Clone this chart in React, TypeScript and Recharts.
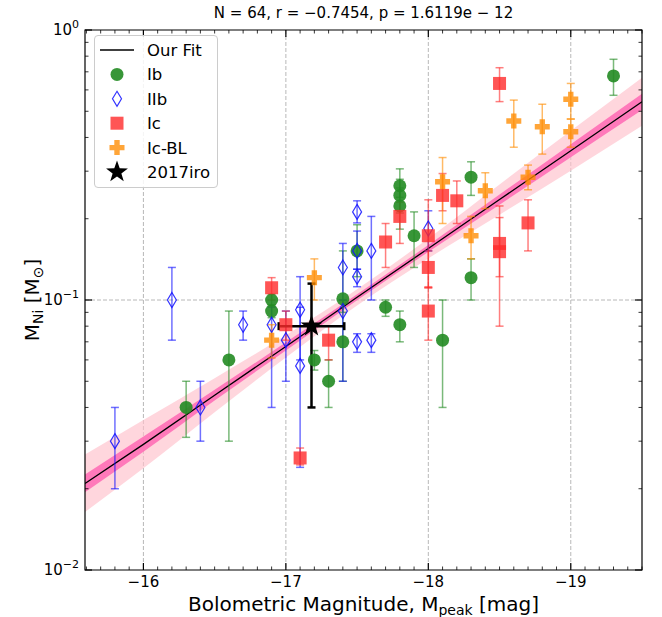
import React from 'react';
import {
  ComposedChart,
  Area,
  Line,
  Scatter,
  ErrorBar,
  XAxis,
  YAxis,
  CartesianGrid,
  ReferenceArea,
  Legend,
} from 'recharts';

const W = 662;
const H = 617;
const PLOT_TOP = 30;
const PLOT_RIGHT = 642;
const FONT = '"DejaVu Sans", sans-serif';

// rows: [M_peak, M_Ni, lower, upper]
const IB = [
  [-16.3, 0.04, 0.031, 0.05],
  [-16.6, 0.06, 0.03, 0.091],
  [-16.9, 0.1, 0.095, 0.105],
  [-16.9, 0.091, 0.086, 0.096],
  [-17.2, 0.06, 0.055, 0.065],
  [-17.3, 0.05, 0.04, 0.06],
  [-17.4, 0.101, 0.09, 0.152],
  [-17.4, 0.07, 0.05, 0.1],
  [-17.5, 0.152, 0.122, 0.19],
  [-17.7, 0.094, 0.087, 0.1],
  [-17.8, 0.081, 0.07, 0.091],
  [-17.8, 0.265, 0.24, 0.306],
  [-17.8, 0.244, 0.21, 0.28],
  [-17.8, 0.223, 0.183, 0.26],
  [-17.9, 0.173, 0.132, 0.212],
  [-18.1, 0.071, 0.04, 0.1],
  [-18.3, 0.285, 0.244, 0.325],
  [-18.3, 0.121, 0.1, 0.142],
  [-19.3, 0.676, 0.573, 0.779],
];

const IIB = [
  [-15.8, 0.03, 0.02, 0.04],
  [-16.2, 0.1, 0.071, 0.132],
  [-16.4, 0.04, 0.03, 0.05],
  [-16.7, 0.081, 0.071, 0.091],
  [-16.9, 0.081, 0.04, 0.094],
  [-17.0, 0.071, 0.05, 0.091],
  [-17.1, 0.092, 0.06, 0.122],
  [-17.1, 0.057, 0.024, 0.094],
  [-17.4, 0.132, 0.1, 0.162],
  [-17.4, 0.091, 0.05, 0.1],
  [-17.5, 0.212, 0.193, 0.233],
  [-17.5, 0.152, 0.13, 0.18],
  [-17.5, 0.122, 0.112, 0.13],
  [-17.5, 0.07, 0.064, 0.075],
  [-17.6, 0.152, 0.1, 0.204],
  [-17.6, 0.071, 0.064, 0.075],
  [-18.0, 0.184, 0.152, 0.214],
];

const IC = [
  [-16.9, 0.111, 0.1, 0.121],
  [-17.0, 0.081, 0.071, 0.091],
  [-17.1, 0.026, 0.0245, 0.0283],
  [-17.3, 0.071, 0.06, 0.08],
  [-17.7, 0.164, 0.132, 0.192],
  [-17.8, 0.204, 0.162, 0.23],
  [-18.0, 0.173, 0.111, 0.235],
  [-18.0, 0.132, 0.111, 0.152],
  [-18.0, 0.091, 0.071, 0.112],
  [-18.1, 0.244, 0.214, 0.294],
  [-18.2, 0.233, 0.192, 0.276],
  [-18.5, 0.634, 0.543, 0.725],
  [-18.5, 0.162, 0.08, 0.223],
  [-18.5, 0.151, 0.122, 0.202],
  [-18.7, 0.193, 0.152, 0.235],
];

const ICBL = [
  [-16.9, 0.071, 0.061, 0.081],
  [-17.2, 0.121, 0.1, 0.142],
  [-18.1, 0.274, 0.192, 0.337],
  [-18.3, 0.173, 0.142, 0.204],
  [-18.4, 0.254, 0.218, 0.296],
  [-18.6, 0.46, 0.368, 0.55],
  [-18.7, 0.285, 0.256, 0.316],
  [-18.8, 0.438, 0.347, 0.531],
  [-19.0, 0.554, 0.468, 0.634],
  [-19.0, 0.42, 0.368, 0.468],
];

// [M_peak, M_Ni, lower, upper, M_peak error]
const SN2017IRO = [[-17.18, 0.08, 0.04, 0.115, 0.23]];

// fit line and its two confidence bands
const FIT_MAG = [-15.59, -16.0, -16.5, -17.0, -17.5, -18.0, -18.5, -19.0, -19.5];
const FIT_NI = [0.0209, 0.0292, 0.0444, 0.0673, 0.1023, 0.1552, 0.2355, 0.3573, 0.5424];
const OUTER_LO = [0.0164, 0.0238, 0.0384, 0.0612, 0.0955, 0.1426, 0.207, 0.3013, 0.4416];
const OUTER_HI = [0.0268, 0.0359, 0.0513, 0.074, 0.1096, 0.169, 0.2679, 0.4236, 0.6653];
const INNER_LO = [0.0194, 0.0274, 0.0424, 0.065, 0.0998, 0.1507, 0.2254, 0.3381, 0.5058];
const INNER_HI = [0.0226, 0.0312, 0.0465, 0.0697, 0.105, 0.16, 0.246, 0.3776, 0.5808];

const X_MAJOR = [-16, -17, -18, -19];
const Y_MAJOR = [0.01, 0.1, 1];
const TITLE = 'N = 64, r = \u22120.7454, p = 1.6119e \u2212 12';

const X_MINOR: number[] = [];
for (let i = 156; i <= 195; i++) if (i % 10 !== 0) X_MINOR.push(-i / 10);
const Y_MINOR = [2, 3, 4, 5, 6, 7, 8, 9].flatMap((k) => [k / 100, k / 10]);

const toPoints = (rows: number[][]) =>
  rows.map(([x, y, lo, hi, xe]) => ({ x, y, err: [y - lo, hi - y], xerr: xe }));

const bandData = FIT_MAG.map((x, i) => ({
  x,
  fit: FIT_NI[i],
  outer: [OUTER_LO[i], OUTER_HI[i]],
  inner: [INNER_LO[i], INNER_HI[i]],
}));

const GREEN = '#228b22';
const BLUE = '#1010ff';
const RED = '#ff2a2a';
const ORANGE = '#ff8c00';

// markers
const Dot = ({ cx, cy }: any) => <circle cx={cx} cy={cy} r={6.5} fill={GREEN} fillOpacity={0.9} />;
const Diamond = ({ cx, cy }: any) => (
  <path
    d={`M${cx},${cy - 7.5}L${cx + 4.5},${cy}L${cx},${cy + 7.5}L${cx - 4.5},${cy}Z`}
    fill="none"
    stroke={BLUE}
    strokeOpacity={0.85}
    strokeWidth={1.2}
  />
);
const Square = ({ cx, cy }: any) => (
  <rect x={cx - 6.5} y={cy - 6.5} width={13} height={13} fill={RED} fillOpacity={0.8} />
);
const Plus = ({ cx, cy }: any) => {
  const s = 7.5;
  const t = 2.7;
  return (
    <path
      d={`M${cx - t},${cy - s}H${cx + t}V${cy - t}H${cx + s}V${cy + t}H${cx + t}V${cy + s}H${cx - t}V${cy + t}H${cx - s}V${cy - t}H${cx - t}Z`}
      fill={ORANGE}
      fillOpacity={0.78}
    />
  );
};
const Star = ({ cx, cy }: any) => {
  const pts: string[] = [];
  for (let i = 0; i < 10; i++) {
    const r = i % 2 === 0 ? 11.5 : 4.6;
    const a = -Math.PI / 2 + (i * Math.PI) / 5;
    pts.push(`${cx + r * Math.cos(a)},${cy + r * Math.sin(a)}`);
  }
  return <polygon points={pts.join(' ')} fill="#000" />;
};

const XTick = ({ x, y, payload }: any) => {
  const v = payload.value;
  const major = X_MAJOR.includes(v);
  const len = major ? 7 : 3.5;
  return (
    <g>
      <line x1={x} y1={y} x2={x} y2={y - len} stroke="#000" strokeWidth={major ? 1.2 : 0.8} />
      <line x1={x} y1={PLOT_TOP} x2={x} y2={PLOT_TOP + len} stroke="#000" strokeWidth={major ? 1.2 : 0.8} />
      {major && (
        <text x={x} y={y + 17} textAnchor="middle" fontSize={15} fontFamily={FONT} fill="#000">
          {`\u2212${Math.abs(v)}`}
        </text>
      )}
    </g>
  );
};

const YTick = ({ x, y, payload }: any) => {
  const v = payload.value;
  const major = Y_MAJOR.includes(v);
  const len = major ? 7 : 3.5;
  const exp = Math.round(Math.log10(v));
  return (
    <g>
      <line x1={x} y1={y} x2={x + len} y2={y} stroke="#000" strokeWidth={major ? 1.2 : 0.8} />
      <line x1={PLOT_RIGHT} y1={y} x2={PLOT_RIGHT - len} y2={y} stroke="#000" strokeWidth={major ? 1.2 : 0.8} />
      {major && (
        <text x={x - 6} y={y + 5} textAnchor="end" fontSize={15} fontFamily={FONT} fill="#000">
          10
          <tspan dy={-7} fontSize={11}>
            {exp === 0 ? '0' : `\u2212${-exp}`}
          </tspan>
        </text>
      )}
    </g>
  );
};

const XLabel = () => (
  <text x={363.5} y={611} textAnchor="middle" fontSize={20} fontFamily={FONT} fill="#000">
    Bolometric Magnitude, M
    <tspan dy={4} fontSize={14}>
      peak
    </tspan>
    <tspan dy={-4}> [mag]</tspan>
  </text>
);

const YLabel = () => (
  <text
    x={39}
    y={300}
    transform="rotate(-90, 39, 300)"
    textAnchor="middle"
    fontSize={20}
    fontFamily={FONT}
    fill="#000"
  >
    M
    <tspan dy={4} fontSize={14}>
      Ni
    </tspan>
    <tspan dy={-4}> [M</tspan>
    <tspan dy={4} fontSize={14}>
      {'\u2299'}
    </tspan>
    <tspan dy={-4}>]</tspan>
  </text>
);

const LEGEND_ITEMS = [
  { name: 'Our Fit', icon: 'line' },
  { name: 'Ib', icon: 'dot' },
  { name: 'IIb', icon: 'diamond' },
  { name: 'Ic', icon: 'square' },
  { name: 'Ic-BL', icon: 'plus' },
  { name: '2017iro', icon: 'star' },
];

const LegendIcon = ({ icon, cy }: { icon: string; cy: number }) => {
  const cx = 22;
  if (icon === 'line') return <line x1={5} y1={cy} x2={39} y2={cy} stroke="#000" strokeWidth={1.3} />;
  if (icon === 'dot') return <Dot cx={cx} cy={cy} />;
  if (icon === 'diamond') return <Diamond cx={cx} cy={cy} />;
  if (icon === 'square') return <Square cx={cx} cy={cy} />;
  if (icon === 'plus') return <Plus cx={cx} cy={cy} />;
  return <Star cx={cx} cy={cy} />;
};

const renderLegend = () => (
  <div
    style={{
      width: 124,
      height: 153,
      boxSizing: 'border-box',
      border: '1px solid #cccccc',
      borderRadius: 4,
      background: 'rgba(255,255,255,0.85)',
    }}
  >
    <svg width={122} height={151} style={{ display: 'block' }}>
      {LEGEND_ITEMS.map((item, i) => {
        const cy = 14 + i * 24.4;
        return (
          <g key={item.name}>
            <LegendIcon icon={item.icon} cy={cy} />
            <text x={52} y={cy + 6} fontSize={16.5} fontFamily={FONT} fill="#000">
              {item.name}
            </text>
          </g>
        );
      })}
    </svg>
  </div>
);

const App: React.FC = () => {
  return (
    <div style={{ position: 'absolute', left: 0, top: 0, width: W, height: H, background: '#fff' }}>
      <div
        style={{
          position: 'absolute',
          left: 85,
          width: 557,
          top: 4,
          textAlign: 'center',
          fontFamily: FONT,
          fontSize: 15,
          color: '#000',
        }}
      >
        {TITLE}
      </div>
      <ComposedChart
        width={W}
        height={H}
        data={bandData}
        margin={{ top: PLOT_TOP, right: W - PLOT_RIGHT, bottom: 0, left: 0 }}
      >
        <CartesianGrid
          verticalValues={X_MAJOR}
          horizontalValues={[0.1]}
          stroke="#b0b0b0"
          strokeDasharray="4 2"
          strokeWidth={0.9}
        />
        <XAxis
          dataKey="x"
          type="number"
          domain={[-19.5, -15.59]}
          reversed
          allowDataOverflow
          ticks={[...X_MAJOR, ...X_MINOR]}
          interval={0}
          tickSize={0}
          tickMargin={0}
          tick={<XTick />}
          axisLine={false}
          height={47}
          label={{ content: () => <XLabel /> }}
        />
        <YAxis
          type="number"
          scale="log"
          domain={[0.01, 1]}
          allowDataOverflow
          ticks={[...Y_MAJOR, ...Y_MINOR]}
          interval={0}
          tickSize={0}
          tickMargin={0}
          tick={<YTick />}
          axisLine={false}
          width={85}
          label={{ content: () => <YLabel /> }}
        />
        <Area
          dataKey="outer"
          type="monotone"
          fill="#ffc0cb"
          fillOpacity={0.65}
          stroke="none"
          isAnimationActive={false}
          legendType="none"
        />
        <Area
          dataKey="inner"
          type="monotone"
          fill="#ff69b4"
          fillOpacity={0.85}
          stroke="none"
          isAnimationActive={false}
          legendType="none"
        />
        <Line
          dataKey="fit"
          type="linear"
          stroke="#000"
          strokeWidth={1.3}
          dot={false}
          isAnimationActive={false}
        />
        <Scatter name="Ib" data={toPoints(IB)} dataKey="y" shape={Dot} isAnimationActive={false}>
          <ErrorBar dataKey="err" direction="y" width={4} stroke={GREEN} strokeOpacity={0.6} strokeWidth={1.5} />
        </Scatter>
        <Scatter name="IIb" data={toPoints(IIB)} dataKey="y" shape={Diamond} isAnimationActive={false}>
          <ErrorBar dataKey="err" direction="y" width={4} stroke={BLUE} strokeOpacity={0.6} strokeWidth={1.5} />
        </Scatter>
        <Scatter name="Ic" data={toPoints(IC)} dataKey="y" shape={Square} isAnimationActive={false}>
          <ErrorBar dataKey="err" direction="y" width={4} stroke={RED} strokeOpacity={0.6} strokeWidth={1.5} />
        </Scatter>
        <Scatter name="Ic-BL" data={toPoints(ICBL)} dataKey="y" shape={Plus} isAnimationActive={false}>
          <ErrorBar dataKey="err" direction="y" width={4} stroke={ORANGE} strokeOpacity={0.6} strokeWidth={1.5} />
        </Scatter>
        <Scatter name="2017iro" data={toPoints(SN2017IRO)} dataKey="y" shape={Star} isAnimationActive={false}>
          <ErrorBar dataKey="err" direction="y" width={4} stroke="#000" strokeWidth={2.5} />
          <ErrorBar dataKey="xerr" direction="x" width={4} stroke="#000" strokeWidth={2.5} />
        </Scatter>
        <ReferenceArea
          x1={-19.5}
          x2={-15.59}
          y1={0.01}
          y2={1}
          fill="none"
          stroke="#000"
          strokeWidth={1.2}
          ifOverflow="visible"
        />
        <Legend
          layout="vertical"
          verticalAlign="middle"
          align="center"
          wrapperStyle={{ left: 94, top: 35, width: 124, height: 153 }}
          content={renderLegend}
        />
      </ComposedChart>
    </div>
  );
};

export default App;
